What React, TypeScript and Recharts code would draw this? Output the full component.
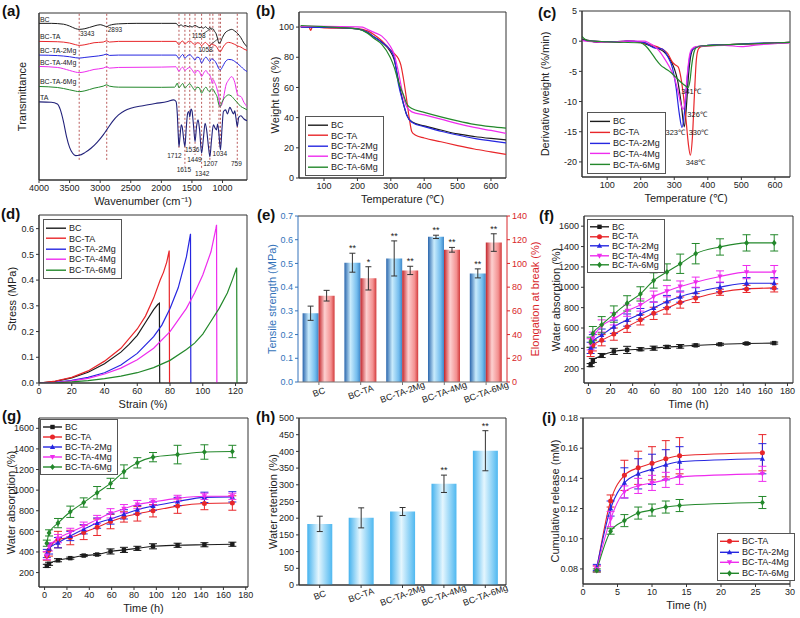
import React from 'react';
import {
  ComposedChart, Line, Bar, XAxis, YAxis, ErrorBar, Legend,
  ReferenceLine, ReferenceDot, ReferenceArea, LabelList,
} from 'recharts';

const FONT = '"Liberation Sans", Arial, Helvetica, sans-serif';
const INK = '#222';

const NAMES = ['BC', 'BC-TA', 'BC-TA-2Mg', 'BC-TA-4Mg', 'BC-TA-6Mg'];
const COLORS = ['#1c1c1c', '#e8262a', '#2626e0', '#ee2cee', '#23882b'];
const SHAPES = ['square', 'circle', 'triangle', 'triangleDown', 'diamond'];
const TA_COLOR = '#22227a';

// (a) FTIR spectra, [wavenumber, offset transmittance]
const ftirBC = [[4000, 93.8], [3800, 93.8], [3600, 93.3], [3500, 92.2], [3400, 90.6], [3343, 90.2], [3250, 90.6], [3100, 92.2], [3000, 93.0], [2940, 92.4], [2893, 91.8], [2850, 92.6], [2700, 93.5], [2400, 93.8], [2000, 93.8], [1760, 93.8], [1712, 92.2], [1680, 92.9], [1640, 92.0], [1615, 92.6], [1560, 91.8], [1536, 92.4], [1500, 91.6], [1449, 92.6], [1420, 92.0], [1370, 91.2], [1342, 91.6], [1316, 90.8], [1280, 91.8], [1230, 90.4], [1207, 91.4], [1180, 90.2], [1158, 90.6], [1130, 89.0], [1105, 87.6], [1080, 84.5], [1058, 81.8], [1034, 82.6], [1000, 85.5], [960, 88.0], [900, 89.6], [850, 90.2], [800, 89.2], [750, 87.6], [700, 85.2], [650, 82.0], [600, 79.8]];
const ftirTA1 = [[4000, 83.0], [3700, 82.8], [3500, 82.0], [3400, 81.0], [3343, 80.6], [3250, 81.0], [3100, 82.2], [2950, 82.6], [2893, 83.4], [2850, 82.6], [2700, 83.0], [2000, 83.0], [1760, 83.0], [1712, 81.0], [1680, 82.6], [1650, 83.2], [1615, 81.4], [1580, 82.4], [1536, 83.2], [1500, 82.4], [1449, 80.8], [1420, 82.2], [1380, 82.0], [1342, 80.4], [1300, 82.0], [1280, 82.4], [1240, 81.0], [1207, 80.2], [1180, 81.4], [1158, 81.0], [1120, 80.6], [1090, 79.4], [1058, 77.4], [1034, 76.8], [1000, 79.0], [960, 81.2], [900, 82.4], [850, 82.0], [800, 81.2], [750, 80.2], [700, 79.6], [650, 78.4], [600, 77.6]];
const ftir2Mg = [[4000, 74.8], [3700, 74.5], [3500, 73.8], [3400, 73.2], [3343, 73.0], [3250, 73.4], [3100, 74.0], [2950, 74.8], [2893, 75.4], [2850, 74.6], [2700, 74.8], [2000, 74.8], [1760, 74.8], [1712, 72.8], [1680, 74.2], [1650, 75.2], [1615, 73.0], [1580, 74.2], [1536, 75.0], [1500, 74.0], [1449, 71.8], [1420, 73.6], [1380, 73.2], [1342, 70.0], [1300, 72.6], [1270, 73.6], [1240, 72.2], [1207, 71.0], [1180, 72.6], [1158, 72.2], [1120, 71.0], [1090, 69.0], [1058, 66.5], [1034, 66.0], [1000, 67.8], [960, 70.5], [900, 72.2], [850, 72.0], [800, 71.0], [750, 69.6], [700, 68.0], [650, 66.2], [600, 65.0]];
const ftir4Mg = [[4000, 68.0], [3700, 67.4], [3500, 65.6], [3400, 64.6], [3343, 64.3], [3250, 64.8], [3100, 66.2], [2950, 67.0], [2893, 67.8], [2850, 67.0], [2700, 67.4], [2000, 67.6], [1760, 67.8], [1712, 65.0], [1680, 66.8], [1650, 67.6], [1615, 65.6], [1580, 66.6], [1536, 67.4], [1500, 66.0], [1449, 63.8], [1420, 65.6], [1380, 65.0], [1342, 62.0], [1300, 64.6], [1270, 65.6], [1240, 63.8], [1207, 62.6], [1185, 60.5], [1170, 57.9], [1150, 60.0], [1130, 58.5], [1100, 55.9], [1080, 53.0], [1060, 49.9], [1040, 43.9], [1020, 44.5], [1000, 46.5], [970, 52.0], [950, 55.9], [900, 59.9], [870, 61.5], [850, 61.9], [820, 60.5], [800, 58.5], [760, 51.9], [740, 50.5], [700, 50.0], [650, 46.5], [600, 43.9]];
const ftir6Mg = [[4000, 56.0], [3700, 55.4], [3500, 54.0], [3400, 53.2], [3343, 52.9], [3250, 53.4], [3100, 55.0], [2950, 56.2], [2893, 57.0], [2850, 56.2], [2700, 55.6], [2000, 55.5], [1780, 55.6], [1740, 58.0], [1712, 55.2], [1680, 56.6], [1650, 57.8], [1615, 55.0], [1580, 56.4], [1536, 57.6], [1500, 56.0], [1449, 53.8], [1420, 55.6], [1380, 55.2], [1342, 52.0], [1300, 54.6], [1270, 55.6], [1240, 53.8], [1207, 52.8], [1180, 54.6], [1158, 54.4], [1120, 52.0], [1090, 50.0], [1060, 45.0], [1040, 44.0], [1010, 46.5], [980, 48.6], [950, 49.9], [900, 51.0], [860, 50.4], [800, 48.0], [750, 46.0], [700, 44.0], [650, 43.0], [600, 42.0]];
const ftirTA = [[4000, 46.8], [3800, 46.6], [3700, 45.5], [3650, 42.0], [3600, 35.0], [3550, 26.0], [3500, 19.5], [3450, 16.0], [3400, 14.6], [3343, 14.8], [3250, 16.4], [3150, 19.0], [3050, 22.5], [2950, 27.0], [2893, 30.0], [2800, 35.0], [2700, 39.0], [2600, 41.5], [2500, 43.0], [2300, 44.5], [2100, 45.8], [1900, 47.0], [1800, 48.0], [1760, 47.0], [1740, 40.0], [1725, 28.0], [1712, 20.0], [1695, 26.0], [1675, 33.0], [1660, 32.0], [1640, 26.0], [1615, 20.0], [1595, 30.0], [1570, 40.0], [1550, 41.0], [1536, 37.8], [1515, 42.5], [1500, 41.5], [1475, 33.0], [1449, 23.0], [1425, 32.0], [1400, 36.0], [1375, 30.0], [1342, 16.0], [1310, 26.0], [1285, 34.0], [1260, 30.0], [1230, 20.0], [1207, 14.0], [1180, 24.0], [1150, 33.0], [1120, 31.0], [1100, 30.0], [1080, 33.5], [1060, 28.0], [1034, 18.0], [1010, 30.0], [985, 41.0], [950, 42.0], [920, 39.5], [880, 43.5], [850, 41.5], [820, 39.5], [800, 41.5], [780, 37.0], [759, 32.0], [735, 37.5], [700, 38.5], [650, 36.5], [600, 35.5]];
const FTIR_SERIES = [ftirBC, ftirTA1, ftir2Mg, ftir4Mg, ftir6Mg];
const FTIR_NAMES = ['BC', 'BC-TA', 'BC-TA-2Mg', 'BC-TA-4Mg', 'BC-TA-6Mg', 'TA'];
const FTIR_NAME_Y = [96.2, 86.2, 77.4, 70.2, 58.9, 49.5];
const FTIR_PEAKS = [3343, 2893, 1712, 1615, 1536, 1449, 1342, 1207, 1158, 1058, 1034, 759];
const FTIR_PEAK_ENDS = [12, 12, 18, 8, 20, 15, 7, 12, 40, 20, 18, 12];
const FTIR_NOTES = [
  { t: '3343', x: 3330, y: 87.4 }, { t: '2893', x: 2877, y: 89.8 },
  { t: '1158', x: 1505, y: 86.2 }, { t: '1058', x: 1397, y: 77.8 },
  { t: '1712', x: 1904, y: 14.6 }, { t: '1615', x: 1750, y: 6.4 },
  { t: '1536', x: 1614, y: 18 }, { t: '1449', x: 1577, y: 12 },
  { t: '1342', x: 1451, y: 4 }, { t: '1207', x: 1315, y: 9.6 },
  { t: '1034', x: 1162, y: 15.6 }, { t: '759', x: 863, y: 9.6 },
];

// (b) TGA, [temperature, weight %]
const tgaBC = [[30, 100.5], [100, 100], [200, 98.8], [230, 96.5], [250, 93.5], [273, 90], [298, 84], [310, 78.5], [323, 64.5], [338, 49], [348, 41.6], [363, 37.2], [400, 34.5], [450, 31.8], [500, 29.2], [550, 27.5], [600, 26.2], [645, 25.2]];
const tgaTA = [[30, 100], [55, 100], [60, 97.8], [65, 100], [100, 99.5], [200, 99], [230, 97.5], [250, 95], [273, 91], [298, 85], [310, 82.5], [323, 79], [330, 75], [338, 65.6], [348, 51], [355, 40], [363, 30.6], [373, 28.5], [400, 26.5], [450, 24], [500, 21.5], [550, 19.2], [600, 17.3], [645, 15.6]];
const tga2Mg = [[30, 100], [100, 99.8], [200, 98.8], [230, 96.5], [250, 93.5], [273, 90], [298, 85], [310, 80], [323, 62], [338, 49], [348, 41.6], [363, 37], [400, 34], [450, 31], [500, 28.5], [550, 26.3], [600, 24.6], [645, 23.2]];
const tga4Mg = [[30, 100.5], [100, 100.5], [200, 100.2], [215, 100], [230, 98.5], [250, 96.5], [273, 94], [298, 87.5], [310, 82], [323, 70], [338, 53.6], [348, 47], [363, 43.8], [400, 41.8], [450, 39], [500, 36], [550, 33.5], [600, 31.5], [645, 29.6]];
const tga6Mg = [[30, 101], [100, 100.3], [200, 98.8], [230, 96], [250, 92.5], [273, 88.6], [298, 80], [310, 73.5], [323, 63.5], [338, 55], [348, 49], [363, 46], [400, 43.5], [450, 40.5], [500, 37.8], [550, 35.5], [600, 34], [645, 33]];
const TGA_SERIES = [tgaBC, tgaTA, tga2Mg, tga4Mg, tga6Mg];

// (c) DTG, [temperature, %/min]
const dtgBC = [[25, 0.3], [40, 0.2], [60, -0.1], [80, -0.2], [100, -0.1], [130, -0.2], [160, 0], [200, -0.2], [220, -0.6], [240, -1.0], [255, -1.3], [270, -1.8], [285, -2.8], [300, -4.5], [310, -6.5], [320, -10], [330, -14.2], [336, -11], [342, -6], [350, -2.2], [358, -1.2], [370, -0.9], [400, -0.7], [450, -0.6], [500, -0.5], [550, -0.4], [600, -0.3], [645, -0.2]];
const dtgTA = [[25, 0.2], [60, 0], [100, -0.1], [160, 0], [200, -0.2], [230, -0.6], [260, -1.2], [280, -2], [295, -3.5], [305, -4], [312, -4.3], [318, -5.5], [325, -8], [335, -13], [342, -17], [348, -18.9], [354, -16], [360, -9], [366, -3], [372, -1.3], [380, -0.9], [400, -0.8], [450, -0.6], [500, -0.5], [550, -0.4], [600, -0.3], [645, -0.2]];
const dtg2Mg = [[25, 0.2], [60, 0], [100, -0.1], [160, 0], [210, -0.2], [240, -1.1], [255, -1.2], [265, -1.3], [280, -2.5], [295, -4.5], [305, -7.5], [315, -12], [323, -14.3], [330, -12], [338, -6.5], [345, -3], [355, -1.3], [370, -0.9], [400, -0.7], [450, -0.6], [500, -0.5], [550, -0.3], [600, -0.3], [645, -0.2]];
const dtg4Mg = [[25, 0.1], [60, -0.1], [100, -0.2], [160, 0], [210, 0], [225, -0.3], [240, -0.8], [255, -1.6], [270, -2.8], [285, -4.2], [300, -6], [312, -8.5], [320, -10.5], [326, -11.3], [332, -10], [338, -6], [345, -2.5], [352, -1.3], [365, -0.9], [450, -0.7], [500, -0.9], [550, -0.6], [600, -0.4], [645, -0.3]];
const dtg6Mg = [[25, 0.8], [30, 0.5], [40, 0.1], [100, -0.1], [200, -0.3], [215, -0.8], [230, -1.8], [245, -3], [260, -4], [275, -4.6], [290, -5.2], [305, -6], [320, -6.8], [333, -7.4], [341, -7.7], [347, -6.5], [352, -4], [358, -2], [365, -1.1], [380, -0.8], [450, -0.6], [500, -0.5], [600, -0.3], [645, -0.2]];
const DTG_SERIES = [dtgBC, dtgTA, dtg2Mg, dtg4Mg, dtg6Mg];
const DTG_NOTES = [
  { t: '341℃', x: 350, y: -8.3 }, { t: '326℃', x: 368, y: -12.1 },
  { t: '323℃', x: 303, y: -15.1 }, { t: '330℃', x: 372, y: -15.1 },
  { t: '348℃', x: 363, y: -20 },
];

// (d) stress-strain, [strain %, stress MPa]
const ssBC = [[0, 0], [10, 0.006], [20, 0.02], [30, 0.042], [40, 0.075], [50, 0.12], [55, 0.15], [60, 0.185], [65, 0.235], [70, 0.285], [72.5, 0.305], [73.5, 0.31], [73.7, 0]];
const ssTA = [[0, 0], [10, 0.007], [20, 0.022], [30, 0.047], [40, 0.085], [50, 0.135], [60, 0.21], [65, 0.26], [70, 0.33], [74, 0.4], [76, 0.43], [78, 0.47], [79.5, 0.515], [79.7, 0]];
const ss2Mg = [[0, 0], [10, 0.003], [20, 0.01], [30, 0.022], [40, 0.04], [50, 0.07], [60, 0.115], [70, 0.18], [75, 0.225], [80, 0.29], [85, 0.37], [90, 0.49], [92.5, 0.58], [92.7, 0]];
const ss4Mg = [[0, 0], [10, 0.002], [20, 0.008], [30, 0.018], [40, 0.035], [50, 0.058], [60, 0.09], [70, 0.135], [80, 0.2], [90, 0.29], [95, 0.35], [100, 0.42], [105, 0.51], [108, 0.6], [108.4, 0.615], [108.6, 0]];
const ss6Mg = [[0, 0], [10, 0.001], [20, 0.004], [30, 0.009], [40, 0.017], [50, 0.027], [60, 0.04], [70, 0.06], [80, 0.088], [90, 0.13], [95, 0.155], [100, 0.19], [105, 0.24], [110, 0.29], [115, 0.35], [118, 0.4], [120.7, 0.448], [120.9, 0]];
const SS_SERIES = [ssBC, ssTA, ss2Mg, ss4Mg, ss6Mg];

// (e) tensile strength and elongation
const tensile = [0.29, 0.503, 0.521, 0.612, 0.458];
const tensileErr = [0.03, 0.04, 0.074, 0.007, 0.019];
const tensileStars = ['', '**', '**', '**', '**'];
const elong = [72.8, 87.4, 94.1, 111.5, 117.6];
const elongErr = [4.5, 9.8, 3.5, 2, 7.4];
const elongStars = ['', '*', '**', '**', '**'];

// (f) / (g) water absorption
const TIMES = [2, 4, 12, 23, 35, 47, 59, 71, 83, 97, 119, 143, 168];
const fBC = [236, 282, 330, 370, 385, 392, 402, 414, 420, 430, 440, 448, 452];
const fBCErr = [15, 20, 20, 30, 35, 15, 20, 15, 18, 12, 10, 10, 10];
const fTA = [365, 430, 480, 540, 612, 680, 744, 796, 850, 895, 951, 984, 994];
const fTAErr = [45, 55, 55, 60, 55, 50, 60, 60, 55, 45, 30, 35, 40];
const f2Mg = [405, 470, 530, 612, 678, 737, 796, 860, 908, 951, 1001, 1040, 1040];
const f2MgErr = [55, 65, 60, 65, 60, 55, 60, 60, 55, 45, 45, 55, 55];
const f4Mg = [440, 500, 620, 690, 770, 826, 908, 961, 1007, 1050, 1106, 1149, 1149];
const f4MgErr = [55, 60, 60, 60, 55, 60, 55, 55, 55, 50, 55, 65, 65];
const f6Mg = [460, 545, 632, 737, 842, 935, 1067, 1150, 1231, 1330, 1396, 1436, 1436];
const f6MgErr = [50, 70, 80, 80, 75, 70, 75, 80, 95, 100, 80, 80, 80];

const gBC = [265, 285, 320, 340, 365, 375, 405, 420, 435, 455, 465, 470, 475];
const gBCErr = [15, 15, 15, 10, 10, 10, 25, 25, 20, 25, 20, 20, 20];
const gTA = [360, 420, 520, 540, 590, 640, 695, 740, 770, 800, 845, 870, 875];
const gTAErr = [40, 60, 80, 70, 70, 80, 70, 50, 70, 60, 70, 60, 70];
const g2Mg = [385, 430, 490, 555, 620, 680, 720, 765, 810, 845, 890, 930, 935];
const g2MgErr = [40, 50, 50, 45, 45, 50, 50, 45, 40, 40, 40, 50, 50];
const g4Mg = [365, 450, 530, 590, 650, 715, 775, 820, 860, 885, 920, 940, 940];
const g4MgErr = [40, 40, 40, 40, 40, 40, 45, 40, 40, 30, 30, 30, 30];
const g6Mg = [485, 585, 680, 790, 880, 975, 1065, 1180, 1265, 1320, 1345, 1370, 1375];
const g6MgErr = [30, 30, 45, 55, 45, 60, 50, 65, 50, 45, 90, 70, 60];

// (h) water retention
const retention = [183, 201, 220, 303, 402];
const retentionErr = [23, 30, 12, 26, 60];
const retentionStars = ['', '', '', '**', '**'];

// (i) cumulative TA release
const RELEASE_TIMES = [2, 4, 6, 8, 10, 12, 14, 26];
const iTA = [0.080, 0.125, 0.142, 0.147, 0.150, 0.153, 0.155, 0.157];
const iTAErr = [0.002, 0.004, 0.010, 0.011, 0.011, 0.012, 0.012, 0.012];
const i2Mg = [0.081, 0.120, 0.137, 0.143, 0.146, 0.149, 0.151, 0.153];
const i2MgErr = [0.002, 0.005, 0.010, 0.010, 0.010, 0.010, 0.010, 0.010];
const i4Mg = [0.080, 0.113, 0.131, 0.135, 0.137, 0.139, 0.141, 0.143];
const i4MgErr = [0.002, 0.005, 0.004, 0.005, 0.005, 0.005, 0.005, 0.005];
const i6Mg = [0.079, 0.105, 0.112, 0.117, 0.119, 0.121, 0.122, 0.124];
const i6MgErr = [0.001, 0.002, 0.004, 0.004, 0.004, 0.004, 0.004, 0.004];

// ---- helpers ----
const pts = (a: number[][]) => a.map(([x, y]) => ({ x, y }));
const table = (xs: number[], vals: number[][], errs: number[][]) =>
  xs.map((x, i) => {
    const row: any = { x };
    vals.forEach((v, k) => { row[`s${k}`] = v[i]; row[`e${k}`] = errs[k][i]; });
    return row;
  });

const AXW = 40;
const AXH = 28;
const MT = 5;
const tickStyle = { fontSize: 9, fill: INK, fontFamily: FONT };
const titleStyle: any = { fontSize: 11, fill: INK, fontFamily: FONT, textAnchor: 'middle' };
const xTitle = (value: string) => ({ value, position: 'insideBottom', offset: 3, style: titleStyle });
const yTitle = (value: string, offset: number, fill = INK, side = 'insideLeft') => ({
  value, angle: -90, position: side, offset, style: { ...titleStyle, fill },
});
const axisBits = { stroke: '#333', tickSize: 3, tickMargin: 2, tick: tickStyle, interval: 0 as const, allowDataOverflow: true };
const frame = (y1: number, y2: number, id?: string) => (
  <ReferenceArea yAxisId={id} y1={y1} y2={y2} fill="none" stroke="#333" strokeWidth={1} />
);

const Panel = ({ plot, rightAxis = false, axw = AXW, data, chartProps = {}, children }: any) => {
  const [l, t, r, b] = plot;
  const mr = rightAxis ? 0 : 6;
  const W = r - l + axw + (rightAxis ? AXW : 0) + mr;
  const H = b - t + MT + AXH;
  return (
    <div style={{ position: 'absolute', left: l - axw, top: t - MT }}>
      <ComposedChart width={W} height={H} data={data} margin={{ top: MT, right: mr, bottom: 0, left: 0 }} {...chartProps}>
        {children}
      </ComposedChart>
    </div>
  );
};

const Marker = ({ cx, cy, shape, color, s = 2.2 }: any) => {
  if (cx == null || cy == null) return null;
  if (shape === 'square') return <rect x={cx - s} y={cy - s} width={2 * s} height={2 * s} fill={color} />;
  if (shape === 'circle') return <circle cx={cx} cy={cy} r={s + 0.3} fill={color} />;
  if (shape === 'triangle') return <path d={`M${cx},${cy - s * 1.3}L${cx + s * 1.2},${cy + s * 0.9}L${cx - s * 1.2},${cy + s * 0.9}Z`} fill={color} />;
  if (shape === 'triangleDown') return <path d={`M${cx},${cy + s * 1.3}L${cx + s * 1.2},${cy - s * 0.9}L${cx - s * 1.2},${cy - s * 0.9}Z`} fill={color} />;
  return <path d={`M${cx},${cy - s * 1.4}L${cx + s * 1.1},${cy}L${cx},${cy + s * 1.4}L${cx - s * 1.1},${cy}Z`} fill={color} />;
};

const LegendBox = ({ idx, rowH, lineW, markers = false, pad = 3 }: any) => (
  <div style={{ border: '1px solid #555', background: '#fff', padding: `${pad}px 5px ${pad}px 2px`, fontFamily: FONT, fontSize: 9, color: INK }}>
    {idx.map((k: number) => (
      <div key={k} style={{ display: 'flex', alignItems: 'center', height: rowH, whiteSpace: 'nowrap' }}>
        <svg width={lineW} height={rowH} style={{ marginRight: 3 }}>
          <line x1={0} x2={lineW} y1={rowH / 2} y2={rowH / 2} stroke={COLORS[k]} strokeWidth={1.4} />
          {markers && <Marker cx={lineW / 2} cy={rowH / 2} shape={SHAPES[k]} color={COLORS[k]} />}
        </svg>
        <span>{NAMES[k]}</span>
      </div>
    ))}
  </div>
);

const legendAt = (left: number, top: number, box: any) => (
  <Legend layout="vertical" align="center" verticalAlign="middle"
    wrapperStyle={{ left, top, width: 'auto', height: 'auto' }} content={() => box} />
);

const SlantTick = (p: any) => {
  const y = p.y + 5;
  return (
    <text x={p.x} y={y} dy="0.35em" textAnchor="middle" fontSize={9} fill={INK} fontFamily={FONT}
      transform={`rotate(-20 ${p.x} ${y})`}>{p.payload.value}</text>
  );
};

const starLabel = (vals: number[], errs: number[]) => (p: any) => {
  const vb = p.viewBox || p;
  const i = p.index;
  if (!p.value || i == null) return null;
  const errPx = (errs[i] * vb.height) / vals[i];
  return (
    <text x={vb.x + vb.width / 2} y={vb.y - errPx - 2} textAnchor="middle" fontSize={9} fill={INK} fontFamily={FONT}>{p.value}</text>
  );
};

const seriesLine = (k: number, data: any[], width = 1.2, type: any = 'monotone') => (
  <Line key={NAMES[k]} data={pts(data)} dataKey="y" name={NAMES[k]} stroke={COLORS[k]} strokeWidth={width}
    dot={false} activeDot={false} type={type} isAnimationActive={false} />
);

const markerLine = (k: number, capW = 4) => (
  <Line key={NAMES[k]} dataKey={`s${k}`} name={NAMES[k]} stroke={COLORS[k]} strokeWidth={1.1} type="monotone"
    isAnimationActive={false} activeDot={false}
    dot={(p: any) => <Marker key={`m${k}-${p.index}`} cx={p.cx} cy={p.cy} shape={SHAPES[k]} color={COLORS[k]} />}>
    <ErrorBar dataKey={`e${k}`} width={capW} stroke={COLORS[k]} strokeWidth={1} direction="y" />
  </Line>
);

// ---- panels ----
const PanelA = () => (
  <Panel plot={[39, 13, 247, 180]}>
    <XAxis type="number" dataKey="x" domain={[600, 4000]} reversed ticks={[4000, 3500, 3000, 2500, 2000, 1500, 1000]}
      height={AXH} {...axisBits} label={xTitle('Wavenumber (cm\u207B\u00B9)')} />
    <YAxis type="number" domain={[0, 100]} width={AXW} {...axisBits} tick={false} tickLine={false}
      label={yTitle('Transmittance', 23)} />
    {frame(0, 100)}
    {FTIR_PEAKS.map((wn, i) => (
      <ReferenceLine key={`p${wn}`} segment={[{ x: wn, y: 99.5 }, { x: wn, y: FTIR_PEAK_ENDS[i] }]}
        stroke="#a83232" strokeDasharray="2 2" strokeWidth={0.8} />
    ))}
    <ReferenceLine segment={[{ x: 1320, y: 87.5 }, { x: 1175, y: 91 }]} stroke="#222" strokeWidth={0.7} />
    <ReferenceLine segment={[{ x: 1230, y: 80 }, { x: 1075, y: 84.5 }]} stroke="#222" strokeWidth={0.7} />
    {FTIR_SERIES.map((s, k) => seriesLine(k, s, 1))}
    <Line data={pts(ftirTA)} dataKey="y" name="TA" stroke={TA_COLOR} strokeWidth={1.1} dot={false} activeDot={false}
      type="monotone" isAnimationActive={false} />
    {FTIR_NAMES.map((n, i) => (
      <ReferenceDot key={`n${n}`} x={3985} y={FTIR_NAME_Y[i]} r={0} fill="none" stroke="none"
        label={{ value: n, position: 'right', offset: 0, fontSize: 7, fill: INK, fontFamily: FONT }} />
    ))}
    {FTIR_NOTES.map((n) => (
      <ReferenceDot key={`t${n.t}`} x={n.x} y={n.y} r={0} fill="none" stroke="none"
        label={{ value: n.t, position: 'right', offset: 0, fontSize: 6.5, fill: INK, fontFamily: FONT }} />
    ))}
  </Panel>
);

const PanelB = () => (
  <Panel plot={[299, 12, 506, 178]}>
    <XAxis type="number" dataKey="x" domain={[25, 645]} ticks={[100, 200, 300, 400, 500, 600]}
      height={AXH} {...axisBits} label={xTitle('Temperature (℃)')} />
    <YAxis type="number" domain={[0, 110]} ticks={[0, 20, 40, 60, 80, 100]} width={AXW} {...axisBits}
      label={yTitle('Weight loss (%)', 16)} />
    {frame(0, 110)}
    {TGA_SERIES.map((s, k) => seriesLine(k, s))}
    {legendAt(46, 109, <LegendBox idx={[0, 1, 2, 3, 4]} rowH={10.4} lineW={20} />)}
  </Panel>
);

const PanelC = () => (
  <Panel plot={[582, 11, 790, 177]} axw={50}>
    <XAxis type="number" dataKey="x" domain={[25, 645]} ticks={[100, 200, 300, 400, 500, 600]}
      height={AXH} {...axisBits} label={xTitle('Temperature (℃)')} />
    <YAxis type="number" domain={[-22.5, 5]} ticks={[-20, -15, -10, -5, 0, 5]} width={50} {...axisBits}
      label={yTitle('Derivative weight (%/min)', 13)} />
    {frame(-22.5, 5)}
    {DTG_SERIES.map((s, k) => seriesLine(k, s))}
    {DTG_NOTES.map((n) => (
      <ReferenceDot key={n.t} x={n.x} y={n.y} r={0} fill="none" stroke="none"
        label={{ value: n.t, position: 'center', fontSize: 7.5, fill: INK, fontFamily: FONT }} />
    ))}
    {legendAt(55, 106, <LegendBox idx={[0, 1, 2, 3, 4]} rowH={10.8} lineW={20} />)}
  </Panel>
);

const PanelD = () => (
  <Panel plot={[39, 215, 247, 383]}>
    <XAxis type="number" dataKey="x" domain={[0, 127]} ticks={[0, 20, 40, 60, 80, 100, 120]}
      height={AXH} {...axisBits} label={xTitle('Strain (%)')} />
    <YAxis type="number" domain={[0, 0.653]} ticks={[0, 0.1, 0.2, 0.3, 0.4, 0.5, 0.6]} width={AXW} {...axisBits}
      tickFormatter={(v: number) => v.toFixed(1)} label={yTitle('Stress (MPa)', 13)} />
    {frame(0, 0.653)}
    {SS_SERIES.map((s, k) => seriesLine(k, s, 1.2, 'linear'))}
    {legendAt(44, 9, <LegendBox idx={[0, 1, 2, 3, 4]} rowH={10.4} lineW={20} />)}
  </Panel>
);

const E_BLUE = '#3473ba';
const E_RED = '#d8262a';
const eData = NAMES.map((name, i) => ({
  name, t: tensile[i], tErr: tensileErr[i], tStar: tensileStars[i],
  el: elong[i], elErr: elongErr[i], elStar: elongStars[i],
}));

const PanelE = () => (
  <Panel plot={[298, 216, 507, 382]} rightAxis data={eData} chartProps={{ barCategoryGap: '11%', barGap: 0 }}>
    <defs>
      <linearGradient id="eBlue" x1="0" y1="0" x2="1" y2="0">
        <stop offset="0" stopColor="#2a66ad" />
        <stop offset="0.38" stopColor="#c8ebfc" />
        <stop offset="0.78" stopColor="#74bdee" />
        <stop offset="1" stopColor="#3f88c9" />
      </linearGradient>
      <linearGradient id="eRed" x1="0" y1="0" x2="1" y2="0">
        <stop offset="0" stopColor="#c3242a" />
        <stop offset="0.38" stopColor="#fdd0d0" />
        <stop offset="0.78" stopColor="#f39090" />
        <stop offset="1" stopColor="#d33b3c" />
      </linearGradient>
    </defs>
    <XAxis dataKey="name" type="category" height={AXH} stroke="#777" tickSize={3} interval={0} tick={<SlantTick />} />
    <YAxis yAxisId="l" type="number" domain={[0, 0.7]} ticks={[0, 0.1, 0.2, 0.3, 0.4, 0.5, 0.6, 0.7]} width={AXW}
      {...axisBits} stroke={E_BLUE} tick={{ ...tickStyle, fill: E_BLUE }} tickFormatter={(v: number) => v.toFixed(1)}
      label={yTitle('Tensile strength (MPa)', 14, E_BLUE)} />
    <YAxis yAxisId="r" orientation="right" type="number" domain={[0, 140]} ticks={[0, 20, 40, 60, 80, 100, 120, 140]}
      width={AXW} {...axisBits} stroke={E_RED} tick={{ ...tickStyle, fill: E_RED }}
      label={yTitle('Elongation at break (%)', 12, E_RED, 'insideRight')} />
    <ReferenceLine yAxisId="l" y={0.7} stroke="#777" strokeWidth={1.5} />
    <Bar yAxisId="l" dataKey="t" fill="url(#eBlue)" isAnimationActive={false}>
      <ErrorBar dataKey="tErr" width={3} stroke="#333" strokeWidth={1} />
      <LabelList dataKey="tStar" content={starLabel(tensile, tensileErr)} />
    </Bar>
    <Bar yAxisId="r" dataKey="el" fill="url(#eRed)" isAnimationActive={false}>
      <ErrorBar dataKey="elErr" width={3} stroke="#333" strokeWidth={1} />
      <LabelList dataKey="elStar" content={starLabel(elong, elongErr)} />
    </Bar>
  </Panel>
);

const fData = table(TIMES, [fBC, fTA, f2Mg, f4Mg, f6Mg], [fBCErr, fTAErr, f2MgErr, f4MgErr, f6MgErr]);
const gData = table(TIMES, [gBC, gTA, g2Mg, g4Mg, g6Mg], [gBCErr, gTAErr, g2MgErr, g4MgErr, g6MgErr]);
const iData = table(RELEASE_TIMES, [iTA, iTA, i2Mg, i4Mg, i6Mg], [iTAErr, iTAErr, i2MgErr, i4MgErr, i6MgErr]);

const absorptionPanel = (plot: number[], data: any[], xDom: number[], legendPos: number[], rowH: number) => (
  <Panel plot={plot} data={data}>
    <XAxis type="number" dataKey="x" domain={xDom} ticks={[0, 20, 40, 60, 80, 100, 120, 140, 160, 180]}
      height={AXH} {...axisBits} label={xTitle('Time (h)')} />
    <YAxis type="number" domain={[60, 1700]} ticks={[200, 400, 600, 800, 1000, 1200, 1400, 1600]} width={AXW}
      {...axisBits} label={yTitle('Water absorption (%)', 12)} />
    {frame(60, 1700)}
    {[0, 1, 2, 3, 4].map((k) => markerLine(k))}
    {legendAt(legendPos[0], legendPos[1], <LegendBox idx={[0, 1, 2, 3, 4]} rowH={rowH} lineW={19} markers pad={2} />)}
  </Panel>
);

const hData = NAMES.map((name, i) => ({ name, v: retention[i], err: retentionErr[i], star: retentionStars[i] }));

const PanelH = () => (
  <Panel plot={[299, 418, 506, 585]} data={hData} chartProps={{ barCategoryGap: '20%' }}>
    <defs>
      <linearGradient id="hBlue" x1="0" y1="0" x2="1" y2="0">
        <stop offset="0" stopColor="#45b2ee" />
        <stop offset="0.45" stopColor="#e4f6fe" />
        <stop offset="1" stopColor="#4fb8f0" />
      </linearGradient>
    </defs>
    <XAxis dataKey="name" type="category" height={AXH} stroke="#333" tickSize={3} interval={0} tick={<SlantTick />} />
    <YAxis type="number" domain={[0, 500]} ticks={[0, 50, 100, 150, 200, 250, 300, 350, 400, 450, 500]} width={AXW}
      {...axisBits} label={yTitle('Water retention (%)', 14)} />
    {frame(0, 500)}
    <Bar dataKey="v" fill="url(#hBlue)" isAnimationActive={false}>
      <ErrorBar dataKey="err" width={3} stroke="#333" strokeWidth={1} />
      <LabelList dataKey="star" content={starLabel(retention, retentionErr)} />
    </Bar>
  </Panel>
);

const PanelI = () => (
  <Panel plot={[583, 418, 790, 584]} data={iData}>
    <XAxis type="number" dataKey="x" domain={[0, 30]} ticks={[0, 5, 10, 15, 20, 25, 30]}
      height={AXH} {...axisBits} label={xTitle('Time (h)')} />
    <YAxis type="number" domain={[0.07, 0.18]} ticks={[0.08, 0.1, 0.12, 0.14, 0.16, 0.18]} width={AXW}
      {...axisBits} tickFormatter={(v: number) => v.toFixed(2)} label={yTitle('Cumulative release (mM)', 12)} />
    {frame(0.07, 0.18)}
    {[1, 2, 3, 4].map((k) => markerLine(k))}
    {legendAt(174, 120, <LegendBox idx={[1, 2, 3, 4]} rowH={10.6} lineW={19} markers pad={2} />)}
  </Panel>
);

const TAGS = [
  { t: '(a)', x: 2, y: 3 }, { t: '(b)', x: 256, y: 3 }, { t: '(c)', x: 538, y: 5 },
  { t: '(d)', x: 1, y: 206 }, { t: '(e)', x: 257, y: 207 }, { t: '(f)', x: 539, y: 208 },
  { t: '(g)', x: 2, y: 408 }, { t: '(h)', x: 256, y: 409 }, { t: '(i)', x: 542, y: 410 },
];

export default function App() {
  return (
    <div style={{ position: 'absolute', left: 0, top: 0, width: 800, height: 618, background: '#fff', overflow: 'hidden', fontFamily: FONT }}>
      <PanelA />
      <PanelB />
      <PanelC />
      <PanelD />
      <PanelE />
      {absorptionPanel([584, 216, 793, 383], fData, [-4, 185], [43, 8], 9.6)}
      {absorptionPanel([39, 418, 248, 587], gData, [-5, 182], [41, 6], 10)}
      <PanelH />
      <PanelI />
      {TAGS.map((g) => (
        <div key={g.t} style={{ position: 'absolute', left: g.x, top: g.y, fontSize: 15, fontWeight: 'bold', lineHeight: 1, color: '#111' }}>{g.t}</div>
      ))}
    </div>
  );
}
